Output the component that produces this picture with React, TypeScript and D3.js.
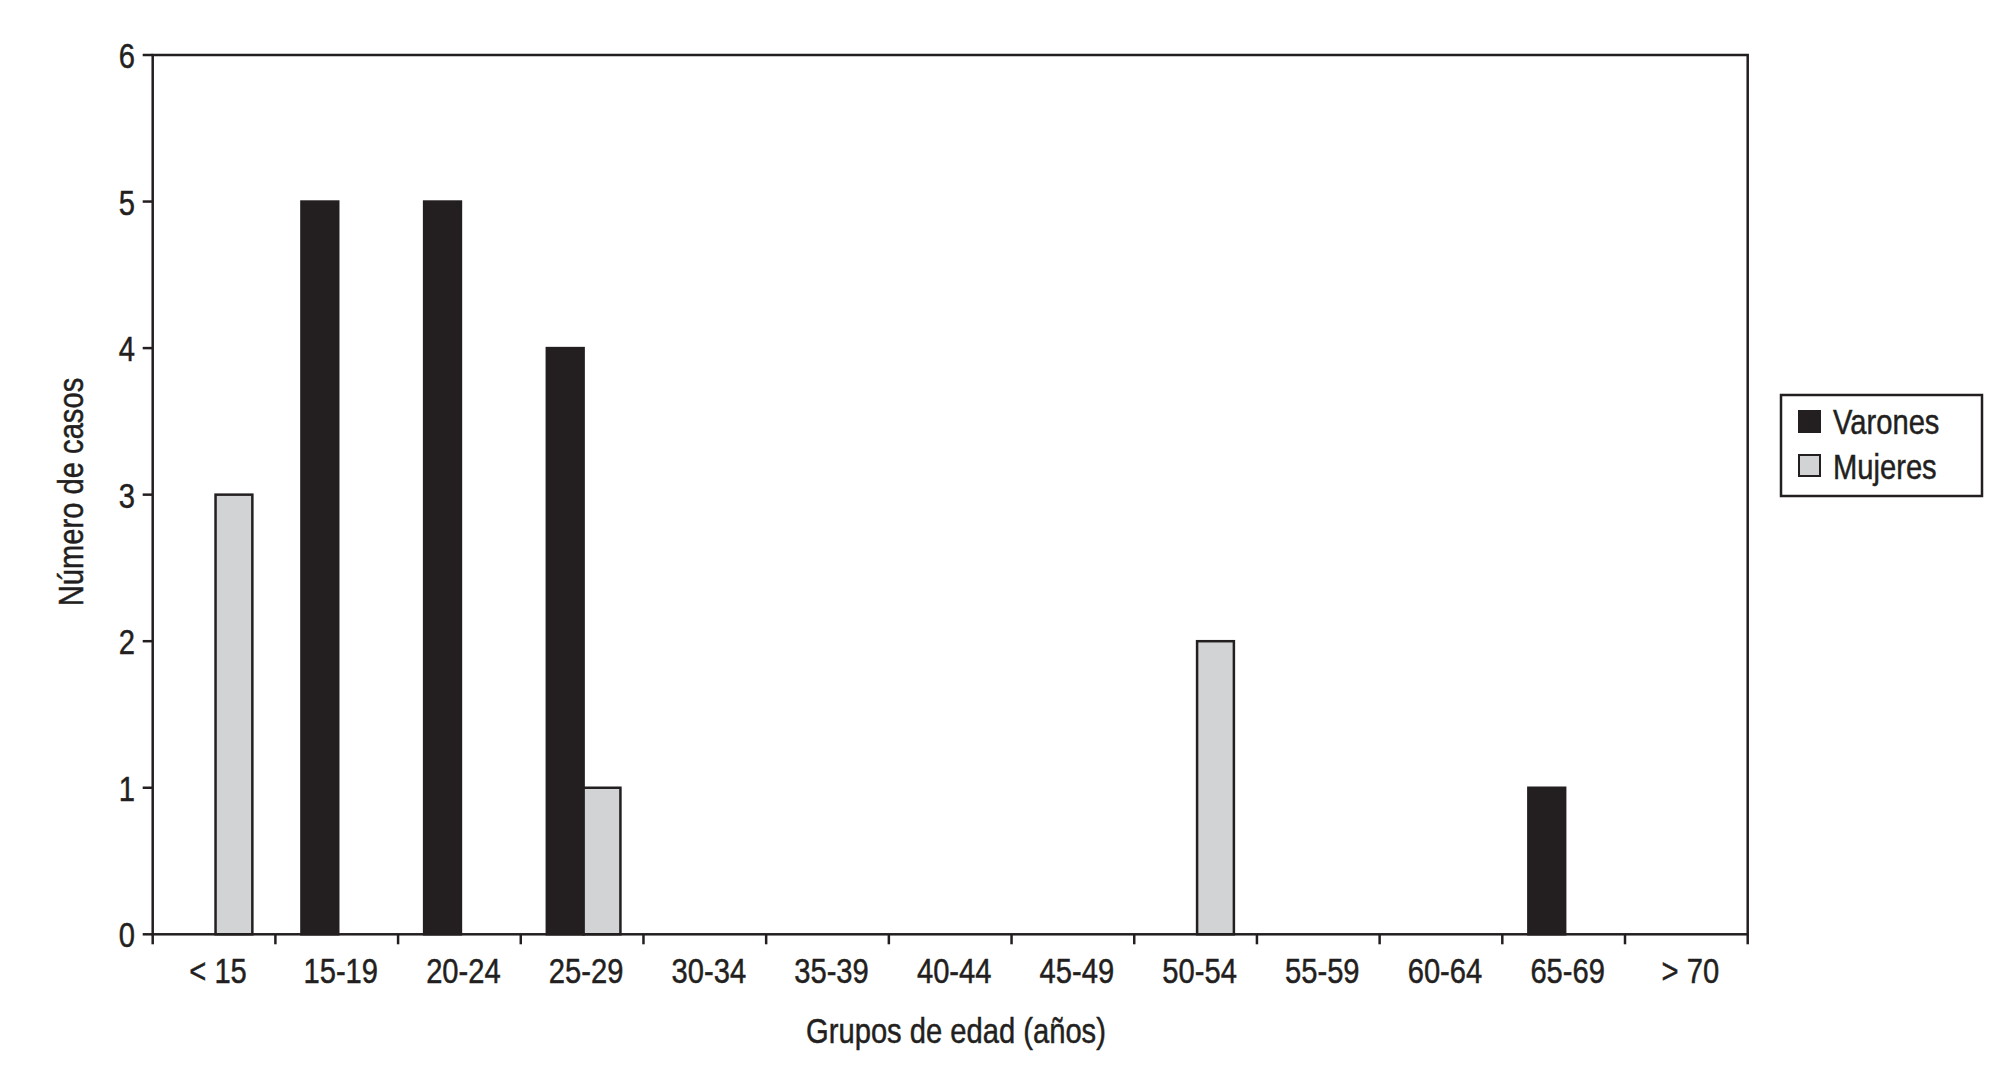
import React from "react";
import { scaleBand, scaleLinear } from "d3";

const categories = ["< 15", "15-19", "20-24", "25-29", "30-34", "35-39", "40-44", "45-49", "50-54", "55-59", "60-64", "65-69", "> 70"];
const seriesNames = ["Varones", "Mujeres"];
const varones = [0, 5, 5, 4, 0, 0, 0, 0, 0, 0, 0, 1, 0];
const mujeres = [3, 0, 0, 1, 0, 0, 0, 0, 2, 0, 0, 0, 0];
const yTicks = [0, 1, 2, 3, 4, 5, 6];

const W = 2012;
const H = 1075;
const PLOT = { left: 152.7, right: 1747.7, top: 55, bottom: 934.3 };
const INK = "#231f20";
const COLORS: Record<string, string> = { Varones: "#231f20", Mujeres: "#d1d3d4" };
const FONT = "'Liberation Sans', Arial, sans-serif";
const FS = 36;
const NARROW = 0.81;

// condensed look: regular sans squeezed horizontally
const Label = ({ x, y, anchor = "start", rotate = 0, dy, children }: any) => (
  <g transform={`translate(${x},${y}) rotate(${rotate}) scale(${NARROW},1)`}>
    <text
      textAnchor={anchor}
      dy={dy}
      fontFamily={FONT}
      fontSize={FS}
      fill={INK}
      stroke={INK}
      strokeWidth={0.5}
    >
      {children}
    </text>
  </g>
);

export default function App() {
  const x0 = scaleBand<string>().domain(categories).range([PLOT.left, PLOT.right]);
  const x1 = scaleBand<string>()
    .domain(seriesNames)
    .range([0, x0.bandwidth()])
    .paddingInner(0)
    .paddingOuter(0.667);
  const y = scaleLinear().domain([0, 6]).range([PLOT.bottom, PLOT.top]);

  const values: Record<string, number[]> = { Varones: varones, Mujeres: mujeres };
  const boundaries = categories.map((c) => x0(c) as number).concat([PLOT.right]);

  return (
    <svg width={W} height={H} style={{ position: "absolute", left: 0, top: 0, background: "#fff" }}>
      <rect x={0} y={0} width={W} height={H} fill="#fff" />

      {/* bars */}
      {seriesNames.map((s) =>
        values[s].map((v, i) =>
          v > 0 ? (
            <rect
              key={s + i}
              x={(x0(categories[i]) as number) + (x1(s) as number) + 1.5}
              y={y(v)}
              width={x1.bandwidth()}
              height={y(0) - y(v)}
              fill={COLORS[s]}
              stroke={INK}
              strokeWidth={2.5}
            />
          ) : null
        )
      )}

      {/* frame */}
      <rect
        x={PLOT.left}
        y={PLOT.top}
        width={PLOT.right - PLOT.left}
        height={PLOT.bottom - PLOT.top}
        fill="none"
        stroke={INK}
        strokeWidth={2.5}
      />

      {/* y axis */}
      {yTicks.map((t) => (
        <g key={t}>
          <line x1={PLOT.left - 10} x2={PLOT.left} y1={y(t)} y2={y(t)} stroke={INK} strokeWidth={2.5} />
          <Label x={135} y={y(t)} anchor="end" dy="0.36em">
            {t}
          </Label>
        </g>
      ))}

      {/* x axis */}
      {boundaries.map((b, i) => (
        <line key={i} x1={b} x2={b} y1={PLOT.bottom} y2={PLOT.bottom + 10} stroke={INK} strokeWidth={2.5} />
      ))}
      {categories.map((c) => (
        <Label key={c} x={(x0(c) as number) + x0.bandwidth() / 2 + 4} y={983} anchor="middle">
          {c}
        </Label>
      ))}

      {/* axis titles */}
      <Label x={956} y={1043} anchor="middle">
        Grupos de edad (años)
      </Label>
      <Label x={83} y={492} anchor="middle" rotate={-90}>
        Número de casos
      </Label>

      {/* legend */}
      <rect x={1781} y={395} width={201} height={101} fill="#fff" stroke={INK} strokeWidth={2.5} />
      {seriesNames.map((s, i) => (
        <g key={s}>
          <rect x={1799} y={411 + i * 44} width={21} height={21} fill={COLORS[s]} stroke={INK} strokeWidth={2} />
          <Label x={1833} y={434 + i * 45}>
            {s}
          </Label>
        </g>
      ))}
    </svg>
  );
}
